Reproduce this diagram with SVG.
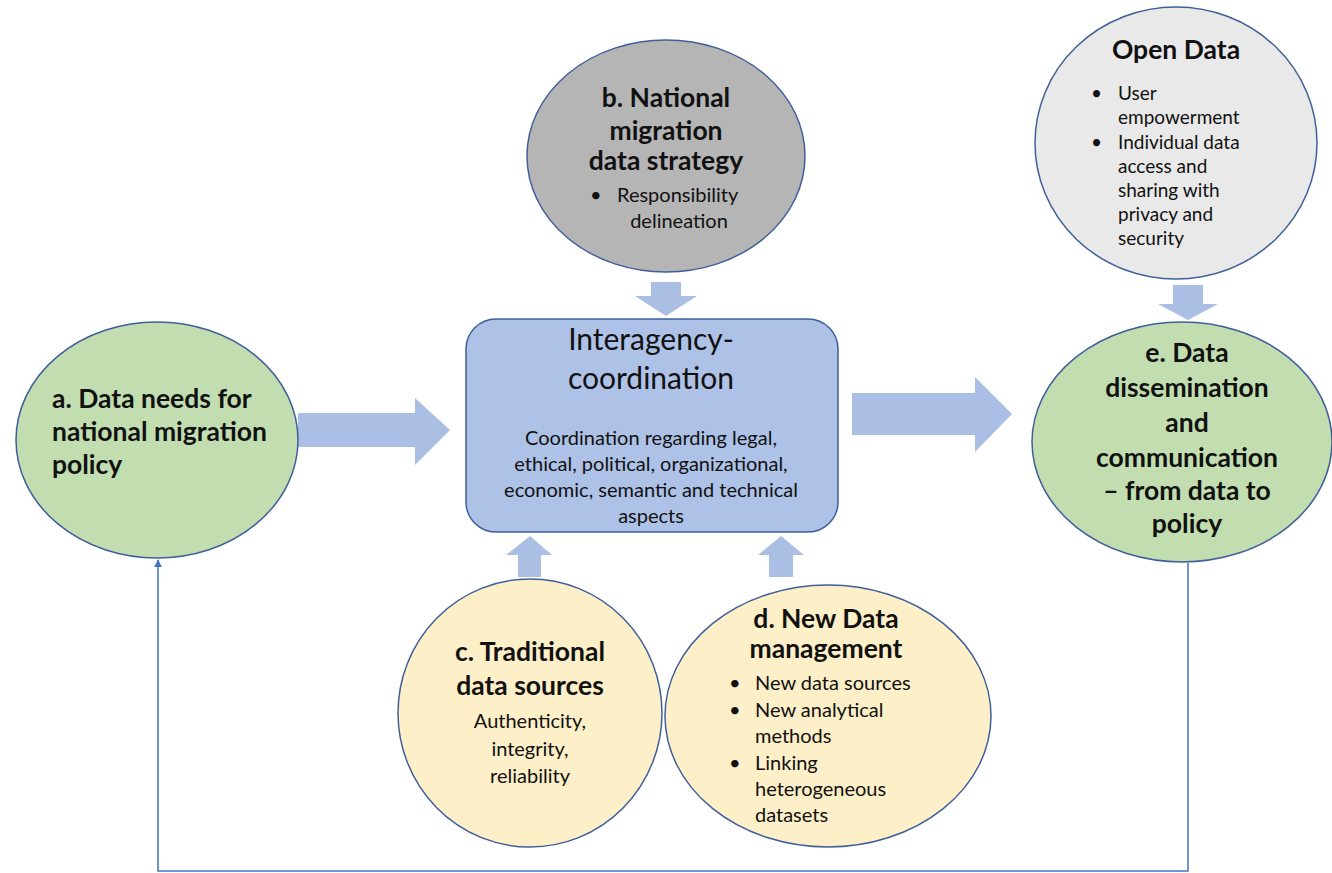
<svg xmlns="http://www.w3.org/2000/svg" width="1332" height="873" viewBox="0 0 1332 873">
<defs>
<style>
.nd{stroke:#3f5f9a;stroke-width:1.5}
.green{fill:#c2deb0}
.gray{fill:#b5b5b5}
.light{fill:#e9e9e9}
.yel{fill:#fdefc8}
.blue{fill:#adc2e6}
.blk{fill:#aabfe3;stroke:none}
text{font-family:Lato,"Open Sans","Liberation Sans",sans-serif;fill:#111}
.t{font-weight:bold;font-size:26.5px}
.b{font-size:20px}
.s{font-size:19px}
.c{text-anchor:middle}
</style>
<marker id="ah" viewBox="0 0 10 10" refX="9" refY="5" markerWidth="8" markerHeight="8" orient="auto" markerUnits="userSpaceOnUse">
<path d="M0,0 L10,5 L0,10 z" fill="#4472c4"/>
</marker>
</defs>
<rect width="1332" height="873" fill="#ffffff"/>

<g id="connectors">
<polygon class="blk" points="298,413 415,413 415,398 450,430 415,465 415,447 298,447"/>
<polygon class="blk" points="852,393 975,393 975,377 1012,414 975,452 975,435 852,435"/>
<polygon class="blk" points="651,282 681,282 681,296 697,296 666,316 635,296 651,296"/>
<polygon class="blk" points="1173,285 1203,285 1203,304 1218,304 1188,320 1158,304 1173,304"/>
<polygon class="blk" points="518,577 541,577 541,555 552,555 530,536 506,555 518,555"/>
<polygon class="blk" points="769,577 793,577 793,555 804,555 781,536 758,555 769,555"/>
<polyline points="1188,563 1188,871 158,871 158,560" fill="none" stroke="#4472c4" stroke-width="1.5" marker-end="url(#ah)"/>
</g>

<g id="node-a">
<ellipse class="nd green" cx="157" cy="440" rx="141" ry="118"/>
<text class="t" x="52" y="408">a. Data needs for</text>
<text class="t" x="52" y="441">national migration</text>
<text class="t" x="52" y="474">policy</text>
</g>

<g id="node-b">
<ellipse class="nd gray" cx="666" cy="156" rx="139" ry="116"/>
<text class="t c" x="666" y="107">b. National</text>
<text class="t c" x="666" y="140">migration</text>
<text class="t c" x="666" y="170">data strategy</text>
<text class="b" x="590" y="202">•</text>
<text class="b" x="617" y="202">Responsibility</text>
<text class="b c" x="679" y="228">delineation</text>
</g>

<g id="node-open">
<ellipse class="nd light" cx="1176" cy="143" rx="141" ry="136"/>
<text class="t c" x="1176" y="59">Open Data</text>
<text class="s" x="1091" y="100">•</text>
<text class="s" x="1118" y="100">User</text>
<text class="s" x="1118" y="124">empowerment</text>
<text class="s" x="1091" y="149">•</text>
<text class="s" x="1118" y="149">Individual data</text>
<text class="s" x="1118" y="173">access and</text>
<text class="s" x="1118" y="197">sharing with</text>
<text class="s" x="1118" y="221">privacy and</text>
<text class="s" x="1118" y="245">security</text>
</g>

<g id="node-center">
<rect class="nd blue" x="466" y="319" width="372" height="213" rx="30" ry="30"/>
<text class="c" x="651" y="350" style="font-size:30px">Interagency-</text>
<text class="c" x="651" y="389" style="font-size:30px">coordination</text>
<text class="b c" x="651" y="445">Coordination regarding legal,</text>
<text class="b c" x="651" y="471">ethical, political, organizational,</text>
<text class="b c" x="651" y="497">economic, semantic and technical</text>
<text class="b c" x="651" y="523">aspects</text>
</g>

<g id="node-e">
<ellipse class="nd green" cx="1182" cy="442" rx="150" ry="120"/>
<text class="t c" x="1187" y="362">e. Data</text>
<text class="t c" x="1187" y="397">dissemination</text>
<text class="t c" x="1187" y="432">and</text>
<text class="t c" x="1187" y="467">communication</text>
<text class="t c" x="1187" y="500">– from data to</text>
<text class="t c" x="1187" y="533">policy</text>
</g>

<g id="node-c">
<ellipse class="nd yel" cx="530" cy="713" rx="132" ry="134"/>
<text class="t c" x="530" y="661">c. Traditional</text>
<text class="t c" x="530" y="695">data sources</text>
<text class="b c" x="530" y="728">Authenticity,</text>
<text class="b c" x="530" y="756">integrity,</text>
<text class="b c" x="530" y="783">reliability</text>
</g>

<g id="node-d">
<ellipse class="nd yel" cx="828" cy="716" rx="163" ry="131"/>
<text class="t c" x="826" y="628">d. New Data</text>
<text class="t c" x="826" y="658">management</text>
<text class="b" x="729" y="690">•</text>
<text class="b" x="755" y="690">New data sources</text>
<text class="b" x="729" y="717">•</text>
<text class="b" x="755" y="717">New analytical</text>
<text class="b" x="755" y="743">methods</text>
<text class="b" x="729" y="770">•</text>
<text class="b" x="755" y="770">Linking</text>
<text class="b" x="755" y="796">heterogeneous</text>
<text class="b" x="755" y="822">datasets</text>
</g>
</svg>
